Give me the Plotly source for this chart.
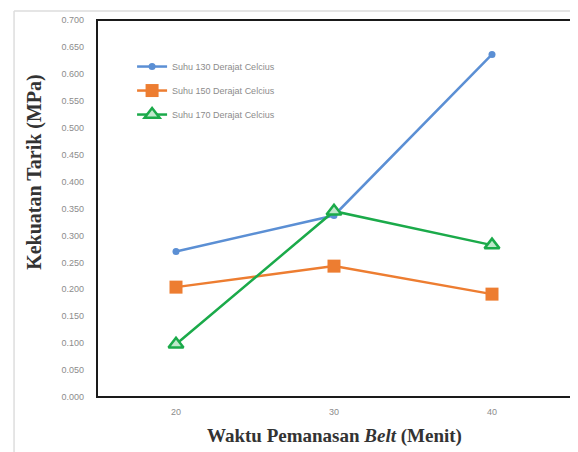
import plotly.graph_objects as go

categories = ["20", "30", "40"]
suhu_130 = [0.270, 0.337, 0.636]
suhu_150 = [0.204, 0.243, 0.191]
suhu_170 = [0.098, 0.345, 0.282]
y_ticks = [i * 0.05 for i in range(15)]
y_tick_labels = ["%.3f" % v for v in y_ticks]

fig = go.Figure()
fig.add_trace(go.Scatter(x=categories, y=suhu_130, name="Suhu 130 Derajat Celcius",
                         legendgroup="a",
                         mode="lines+markers", line=dict(color="#5B8FD4", width=2.5),
                         marker=dict(symbol="circle", size=7, color="#5B8FD4")))
fig.add_trace(go.Scatter(x=categories, y=suhu_150, name="Suhu 150 Derajat Celcius",
                         legendgroup="b",
                         mode="lines+markers", line=dict(color="#ED7D31", width=2.5),
                         marker=dict(symbol="square", size=13, color="#ED7D31")))
fig.add_trace(go.Scatter(x=categories, y=suhu_170, name="Suhu 170 Derajat Celcius",
                         legendgroup="c",
                         mode="lines+markers", line=dict(color="#1BAA4A", width=2.5),
                         marker=dict(symbol="triangle-up", size=13, color="#BFE8CB",
                                     line=dict(color="#1BAA4A", width=2.5))))

serif = "Liberation Serif, Times New Roman, serif"

# page body has an 8px margin: figure is sized and placed to land on the 578x452 window
fig.update_layout(
    width=570, height=444,
    margin=dict(l=89, r=7, t=7, b=55),
    paper_bgcolor="white", plot_bgcolor="white",
    font=dict(family="Liberation Sans, Arial, sans-serif", color="#8C8C8C", size=9),
    legend=dict(x=0.074, y=0.915, xanchor="left", yanchor="top",
                bgcolor="rgba(0,0,0,0)", font=dict(size=9, color="#8C8C8C"),
                tracegroupgap=5, itemwidth=30),
    showlegend=True,
)
fig.update_xaxes(type="category", range=[-0.5, 2.5], showline=False,
                 showgrid=False, ticks="", ticklabelstandoff=8, tickfont=dict(size=9))
fig.update_yaxes(range=[0, 0.7], tickvals=y_ticks, ticktext=y_tick_labels,
                 showline=False, showgrid=False, zeroline=False, ticks="",
                 ticklabelstandoff=12, tickfont=dict(size=9))

# axis titles
fig.add_annotation(text="<b>Waktu Pemanasan <i>Belt</i> (Menit)</b>", xref="paper", yref="paper",
                   x=0.502, y=-0.104, xanchor="center", yanchor="middle", showarrow=False,
                   font=dict(family=serif, size=19, color="#333333"))
fig.add_annotation(text="<b>Kekuatan Tarik (MPa)</b>", xref="paper", yref="paper",
                   x=-0.131, y=0.597, xanchor="center", yanchor="middle", showarrow=False,
                   textangle=-90, font=dict(family=serif, size=20, color="#333333"))

# plot frame
fig.add_shape(type="rect", xref="paper", yref="paper", x0=0, x1=1, y0=0, y1=1,
              line=dict(color="#1a1a1a", width=2), layer="below")
# light outer image border (left and top)
fig.add_shape(type="line", xref="paper", yref="paper", x0=-0.175, x1=1.02, y0=1.024, y1=1.024,
              line=dict(color="#DDDDDD", width=1.5))
fig.add_shape(type="line", xref="paper", yref="paper", x0=-0.175, x1=-0.175, y0=-0.15, y1=1.024,
              line=dict(color="#DDDDDD", width=1.5))

fig.write_html("out.html")
